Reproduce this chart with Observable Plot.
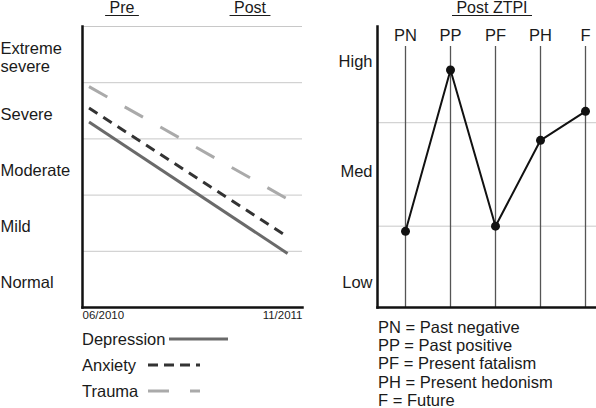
<!DOCTYPE html>
<html><head><meta charset="utf-8">
<script src="https://cdn.jsdelivr.net/npm/d3@7"></script>
<script src="https://cdn.jsdelivr.net/npm/@observablehq/plot@0.6"></script>
<style>
body{margin:0;background:#fff;}
#root{position:relative;width:596px;height:408px;font-family:"Liberation Sans",Arial,sans-serif;color:#1a1a1a;overflow:hidden;background:#fff}
.abs{position:absolute}
.hdr{font-size:16px;text-decoration:underline;text-decoration-thickness:1px;text-underline-offset:2px;white-space:pre;transform:translateX(-50%);line-height:16px;top:0}
.leg2{font-size:16.5px;line-height:18.2px;left:378px;top:318px;white-space:pre}
</style></head><body><div id="root"></div>
<script>
// ---- data ----
const severityLevels = ["Normal", "Mild", "Moderate", "Severe", "Extreme\nsevere"];
const severityPositions = [0.5, 1.5, 2.5, 3.5, 4.5];
const dates = ["2010-06-01", "2011-11-01"];
const dateLabels = ["06/2010", "11/2011"];
const phaseLabels = ["Pre", "Post"];
const seriesNames = ["Depression", "Anxiety", "Trauma"];
const depression = [3.30, 0.96];
const anxiety = [3.55, 1.26];
const trauma = [3.93, 1.93];

const ztpiTitle = "Post ZTPI";
const ztpiCategories = ["PN", "PP", "PF", "PH", "F"];
const ztpiNames = ["Past negative", "Past positive", "Present fatalism", "Present hedonism", "Future"];
const ztpiValues = [0.95, 2.51, 1.0, 1.83, 2.11];
const ztpiLevels = ["Low", "Med", "High"];
const ztpiLevelPositions = [0.45, 1.53, 2.59];

// ---- styles ----
const FONT = '"Liberation Sans", Arial, sans-serif';
const ink = "#1a1a1a";
const seriesStyle = {
  Depression: {stroke: "#6a6a6a", dash: null, legendDash: null},
  Anxiety: {stroke: "#333333", dash: "10,7", legendDash: "10,6"},
  Trauma: {stroke: "#aaaaaa", dash: "21,20", legendDash: "21,21"}
};
const seriesValues = {Depression: depression, Anxiety: anxiety, Trauma: trauma};

const root = document.getElementById("root");

// ---- left panel ----
const seriesLines = seriesNames.map(name => Plot.line(seriesValues[name], {
  x: (d, i) => new Date(dates[i]), y: d => d,
  stroke: seriesStyle[name].stroke, strokeWidth: 3,
  strokeDasharray: seriesStyle[name].dash, strokeLinecap: "butt"
}));

const left = Plot.plot({
  width: 310, height: 325,
  marginLeft: 82, marginTop: 26, marginRight: 8, marginBottom: 18,
  style: {fontFamily: FONT, background: "transparent", color: ink},
  x: {type: "utc", domain: [new Date("2010-05-15"), new Date("2011-12-10")], axis: null},
  y: {domain: [0, 5], axis: null},
  marks: [
    Plot.ruleY([1, 2, 3, 4, 5], {stroke: "#c8c8c8", strokeWidth: 1}),
    ...seriesLines,
    Plot.frame({anchor: "left", stroke: "#111", strokeWidth: 2.5}),
    Plot.frame({anchor: "bottom", stroke: "#111", strokeWidth: 2.5}),
    Plot.text(severityLevels, {
      y: (d, i) => severityPositions[i], text: d => d,
      frameAnchor: "left", textAnchor: "start", lineAnchor: "middle", dx: -82, dy: 3,
      lineHeight: 1.1, fontSize: 16.5, fill: ink
    }),
    Plot.text([dateLabels[0]], {text: d => d, frameAnchor: "bottom-left", textAnchor: "start", lineAnchor: "middle", dy: 8, fontSize: 11.5, fill: ink}),
    Plot.text([dateLabels[1]], {text: d => d, frameAnchor: "bottom-right", textAnchor: "end", lineAnchor: "middle", dy: 8, fontSize: 11.5, fill: ink})
  ]
});
left.classList.add("abs");
left.style.left = "0px"; left.style.top = "0px";
root.appendChild(left);

// ---- right panel ----
const right = Plot.plot({
  width: 276, height: 325,
  marginLeft: 57, marginTop: 26, marginRight: 0, marginBottom: 18,
  style: {fontFamily: FONT, background: "transparent", color: ink},
  x: {type: "point", domain: ztpiCategories, padding: 0.42, align: 0.71, axis: null},
  y: {domain: [0.214, 2.93], axis: null},
  marks: [
    Plot.ruleY([1, 2], {stroke: "#c8c8c8", strokeWidth: 1}),
    Plot.ruleX(ztpiCategories, {x: d => d, stroke: "#555", strokeWidth: 1.3, insetTop: 20}),
    Plot.frame({anchor: "left", stroke: "#111", strokeWidth: 2.5}),
    Plot.frame({anchor: "bottom", stroke: "#111", strokeWidth: 2.5}),
    Plot.text(ztpiCategories, {x: d => d, text: d => d, frameAnchor: "top", lineAnchor: "middle", dy: 9, fontSize: 16.5, fill: ink}),
    Plot.text(ztpiLevels, {
      y: (d, i) => ztpiLevelPositions[i], text: d => d,
      frameAnchor: "left", textAnchor: "end", lineAnchor: "middle", dx: -5, fontSize: 16.5, fill: ink
    }),
    Plot.line(ztpiValues, {x: (d, i) => ztpiCategories[i], y: d => d, stroke: "#111", strokeWidth: 2}),
    Plot.dot(ztpiValues, {x: (d, i) => ztpiCategories[i], y: d => d, r: 4.5, fill: "#111", stroke: "none"})
  ]
});
right.classList.add("abs");
right.style.left = "320px"; right.style.top = "0px";
root.appendChild(right);

// ---- headers ----
const headers = [[phaseLabels[0], 122], [phaseLabels[1], 250], [ztpiTitle, 492]];
headers.forEach(([t, cx]) => {
  const s = document.createElement("div");
  s.className = "abs hdr";
  s.style.left = cx + "px";
  s.textContent = " " + t + " ";
  root.appendChild(s);
});

// ---- left legend ----
const legSvg = d3.create("svg").attr("width", 310).attr("height", 83)
  .attr("class", "abs").style("left", "0px").style("top", "325px")
  .style("font-family", FONT);
const legRows = [
  {name: "Depression", y: 14, x1: 169, x2: 228},
  {name: "Anxiety", y: 40, x1: 148, x2: 200},
  {name: "Trauma", y: 66, x1: 148, x2: 200}
];
legRows.forEach(r => {
  legSvg.append("text").attr("x", 82).attr("y", r.y).attr("dy", "0.35em")
    .attr("font-size", 16.5).attr("fill", ink).text(r.name);
  legSvg.append("line").attr("x1", r.x1).attr("x2", r.x2).attr("y1", r.y).attr("y2", r.y)
    .attr("stroke", seriesStyle[r.name].stroke).attr("stroke-width", 3)
    .attr("stroke-dasharray", seriesStyle[r.name].legendDash);
});
root.appendChild(legSvg.node());

// ---- right legend ----
const leg2 = document.createElement("div");
leg2.className = "abs leg2";
leg2.textContent = ztpiCategories.map((c, i) => c + " = " + ztpiNames[i]).join("\n");
root.appendChild(leg2);
</script>
</body></html>
